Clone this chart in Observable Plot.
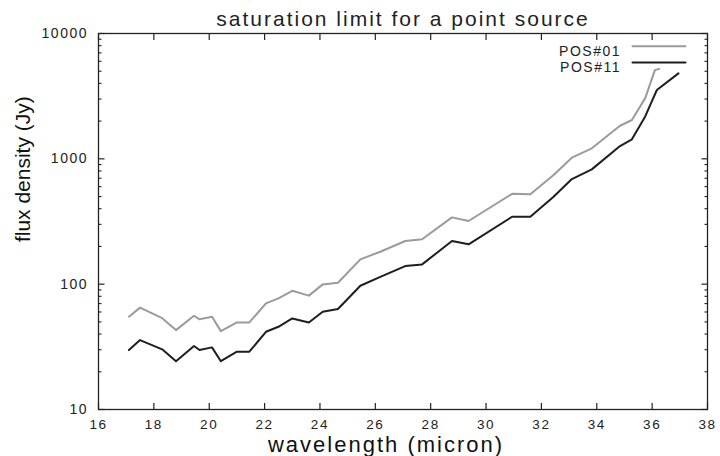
<!DOCTYPE html>
<html><head><meta charset="utf-8">
<script src="https://cdn.jsdelivr.net/npm/d3@7"></script>
<script src="https://cdn.jsdelivr.net/npm/@observablehq/plot@0.6"></script>
<style>
html,body{margin:0;padding:0;background:#fff;}
#chart svg{display:block;}
</style>
</head><body><div id="chart"></div>
<script>
const title = "saturation limit for a point source";
const xLabel = "wavelength (micron)";
const yLabel = "flux density (Jy)";
const seriesNames = ["POS#01", "POS#11"];
const seriesColors = ["#9b9b9b", "#1e1e1e"];

const wavelength01 = [17.1, 17.5, 18.3, 18.8, 19.45, 19.65, 20.1, 20.42, 21.0, 21.45, 22.05, 22.5, 23.0, 23.6, 24.1, 24.65, 25.46, 26.18, 27.08, 27.69, 28.77, 29.37, 30.94, 31.6, 32.44, 33.1, 33.82, 34.84, 35.27, 35.75, 36.1, 36.25];
const flux01 = [55, 65, 53.5, 43, 56, 52.4, 55, 42.2, 49.5, 49.5, 70.3, 77.1, 88.6, 81, 99.6, 102.6, 157.8, 181.5, 221, 228, 341, 319, 526, 521, 743, 1021, 1213, 1837, 2041, 3050, 5100, 5220];

const wavelength11 = [17.1, 17.5, 18.3, 18.8, 19.45, 19.65, 20.1, 20.42, 21.0, 21.45, 22.05, 22.5, 23.0, 23.6, 24.1, 24.65, 25.46, 26.18, 27.08, 27.69, 28.77, 29.37, 30.94, 31.6, 32.44, 33.1, 33.82, 34.84, 35.27, 35.75, 36.17, 36.95];
const flux11 = [29.8, 35.8, 30.2, 24.3, 32.1, 29.8, 31.3, 24.3, 28.9, 28.9, 41.7, 45.7, 53.3, 49.5, 60.2, 63.3, 97.1, 114.5, 139.4, 143.8, 221, 208, 345, 345, 499, 690, 824, 1265, 1432, 2180, 3540, 4810];

const xTicks = [16, 18, 20, 22, 24, 26, 28, 30, 32, 34, 36, 38];
const yTicks = [10, 100, 1000, 10000];
const yMinorTicks = [20, 30, 40, 50, 60, 70, 80, 90, 200, 300, 400, 500, 600, 700, 800, 900, 2000, 3000, 4000, 5000, 6000, 7000, 8000, 9000];

const data = [
  ...wavelength01.map((w, i) => ({series: seriesNames[0], w, f: flux01[i]})),
  ...wavelength11.map((w, i) => ({series: seriesNames[1], w, f: flux11[i]}))
];

const lineShape = {draw(ctx, l) { ctx.moveTo(0, 0); ctx.lineTo(0, -l); }};

const legendMarks = seriesNames.flatMap((name, i) => [
  Plot.text([name], {frameAnchor: "top-right", textAnchor: "end", dx: -86.5, dy: 12.7 + i * 16, fontSize: 14, text: d => d, fill: "#222"}),
  Plot.vector([name], {frameAnchor: "top-right", dx: -75, dy: 12.7 + i * 16.3, length: 53, rotate: 90, anchor: "start", shape: lineShape, stroke: seriesColors[i], strokeWidth: 2})
]);

const plot = Plot.plot({
  width: 720, height: 456,
  marginLeft: 98, marginRight: 13, marginTop: 33, marginBottom: 47,
  style: {fontFamily: "'Liberation Sans', Arial, sans-serif", color: "#222", background: "#fff", overflow: "visible"},
  x: {domain: [16, 38]},
  y: {type: "log", domain: [10, 10000]},
  color: {domain: seriesNames, range: seriesColors},
  marks: [
    Plot.axisX({anchor: "bottom", ticks: xTicks, tickSize: -6, fill: "none", label: null, strokeWidth: 1.2}),
    Plot.axisX({anchor: "top", ticks: xTicks, tickSize: -6, fill: "none", label: null, strokeWidth: 1.2}),
    Plot.axisX({anchor: "bottom", ticks: xTicks, tickSize: 0, tickPadding: 10, fontSize: 13.5, label: null, tickFormat: d => String(d)}),
    Plot.axisY({anchor: "left", ticks: yTicks, tickSize: -6.5, fill: "none", label: null, strokeWidth: 1.2}),
    Plot.axisY({anchor: "right", ticks: yTicks, tickSize: -6.5, fill: "none", label: null, strokeWidth: 1.2}),
    Plot.axisY({anchor: "left", ticks: yMinorTicks, tickSize: -3.5, fill: "none", label: null, strokeWidth: 1.1}),
    Plot.axisY({anchor: "right", ticks: yMinorTicks, tickSize: -3.5, fill: "none", label: null, strokeWidth: 1.1}),
    Plot.axisY({anchor: "left", ticks: yTicks, tickSize: 0, tickPadding: 10.5, fontSize: 14, label: null, tickFormat: d => String(d)}),
    Plot.line(data, {x: "w", y: "f", z: "series", stroke: "series", strokeWidth: 2}),
    Plot.frame({stroke: "#222", strokeWidth: 1.3}),
    Plot.text([title], {frameAnchor: "top", dy: -22, fontSize: 21, text: d => d, fill: "#222"}),
    Plot.text([xLabel], {frameAnchor: "bottom", dx: -17, dy: 42, fontSize: 22, text: d => d, fill: "#111"}),
    Plot.text([yLabel], {frameAnchor: "left", rotate: -90, dx: -75, dy: 20.6, fontSize: 21, text: d => d, fill: "#111"}),
    ...legendMarks
  ]
});

const svgSel = d3.select(plot);
svgSel.selectAll('g[aria-label="x-axis tick label"] text').attr("letter-spacing", "1.6");
svgSel.selectAll('g[aria-label="y-axis tick label"] text').attr("letter-spacing", "1.5");
svgSel.selectAll("text").each(function() {
  const t = this.textContent;
  if (t === title) this.setAttribute("letter-spacing", "2");
  else if (t === xLabel) this.setAttribute("letter-spacing", "2");
  else if (seriesNames.includes(t)) this.setAttribute("letter-spacing", "1.5");
});
document.getElementById("chart").appendChild(plot);
</script>
</body></html>
